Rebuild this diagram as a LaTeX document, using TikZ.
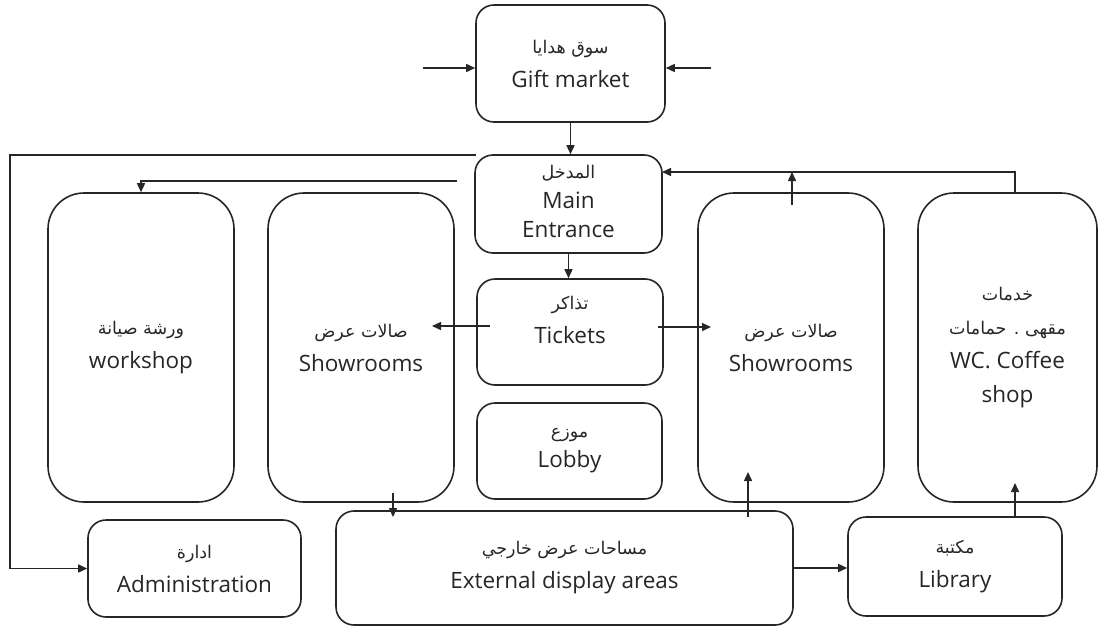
\documentclass[tikz,border=0pt]{standalone}
\usepackage{fontspec}
\setmainfont{Open Sans}
\newfontfamily\arabicfont[Script=Arabic]{DejaVu Sans}
\TeXXeTstate=1
\usetikzlibrary{arrows.meta}
\newcommand{\ar}[1]{{\fontsize{17.5}{33}\arabicfont\beginR #1\endR}}
\tikzset{
  box/.style={draw=black!85, line width=1.6pt, rounded corners=18pt, align=center,
    inner sep=0pt, font=\fontsize{22.5}{34}\selectfont, text=black!85},
  tall/.style={box, rounded corners=36pt},
  arr/.style={-{Triangle[length=9pt,width=8pt]}, line width=1.5pt, draw=black!85},
}
\begin{document}
\begin{tikzpicture}[x=1pt,y=-1pt]
\useasboundingbox (0,0) rectangle (1099,629);
% boxes
\node[box, minimum width=189pt, minimum height=117pt] (gift) at (570.5,63.5) {\ar{سوق هدايا}\\Gift market};
\node[box, minimum width=187pt, minimum height=98pt] (entr) at (568.5,204) {\ar{المدخل}\\[-4pt]Main\\[-5pt]Entrance\\[-28pt]\mbox{}};
\node[box, minimum width=186pt, minimum height=106pt] (tick) at (570,332) {\ar{تذاكر}\\Tickets\\[-10pt]\mbox{}};
\node[box, minimum width=185pt, minimum height=96pt] (lobby) at (569.5,451) {\ar{موزع}\\[-4pt]Lobby};
\node[tall, minimum width=186pt, minimum height=309pt] (work) at (141,347.5) {\ar{ورشة صيانة}\\workshop};
\node[tall, minimum width=186pt, minimum height=309pt] (showL) at (361,347.5) {\ar{صالات عرض}\\Showrooms};
\node[tall, minimum width=186pt, minimum height=309pt] (showR) at (791,347.5) {\ar{صالات عرض}\\Showrooms};
\node[tall, minimum width=179pt, minimum height=309pt] (coffee) at (1007.5,347.5) {\ar{خدمات}\\\ar{مقهى . حمامات}\\WC. Coffee\\shop};
\node[box, minimum width=213pt, minimum height=97pt] (admin) at (194.5,568.5) {\ar{ادارة}\\Administration};
\node[box, minimum width=457pt, minimum height=114pt] (ext) at (564.5,568) {\ar{مساحات عرض خارجي}\\External display areas};
\node[box, minimum width=214pt, minimum height=99pt] (lib) at (955,566.5) {\ar{مكتبة}\\Library};
% coordinates
\coordinate (gl) at (423,68);
\coordinate (gr) at (711,68);
\coordinate (a1) at (476,155);
\coordinate (L) at (10,155);
\coordinate (a2) at (457,181);
\coordinate (t1) at (490,326);
\coordinate (t2) at (432,326);
\coordinate (t3) at (658,327);
\coordinate (t4) at (711,327);
\coordinate (r1) at (792,205);
\coordinate (r2) at (792,172);
\coordinate (k1) at (1015,193);
\coordinate (k2) at (662,172);
\coordinate (s1) at (393,493);
\coordinate (s2) at (393,517);
\coordinate (e1) at (748,517);
\coordinate (e2) at (748,472);
\coordinate (l1) at (1015,517);
\coordinate (l2) at (1015,483);
% connectors
\draw[arr] (gl) -- (gl -| gift.west);
\draw[arr] (gr) -- (gr -| gift.east);
\draw[arr] (gift.south) -- (gift.south |- entr.north);
\draw[arr] (a1) -- (L) |- (admin.west);
\draw[arr] (a2) -| (work.north);
\draw[arr] (entr.south) -- (entr.south |- tick.north);
\draw[arr] (t1) -- (t2);
\draw[arr] (t3) -- (t4);
\draw[arr] (r1) -- (r2);
\draw[arr] (k1) |- (k2);
\draw[arr] (s1) -- (s2);
\draw[arr] (e1) -- (e2);
\draw[arr] (ext.east) -- (ext.east -| lib.west);
\draw[arr] (l1) -- (l2);
\end{tikzpicture}
\end{document}
